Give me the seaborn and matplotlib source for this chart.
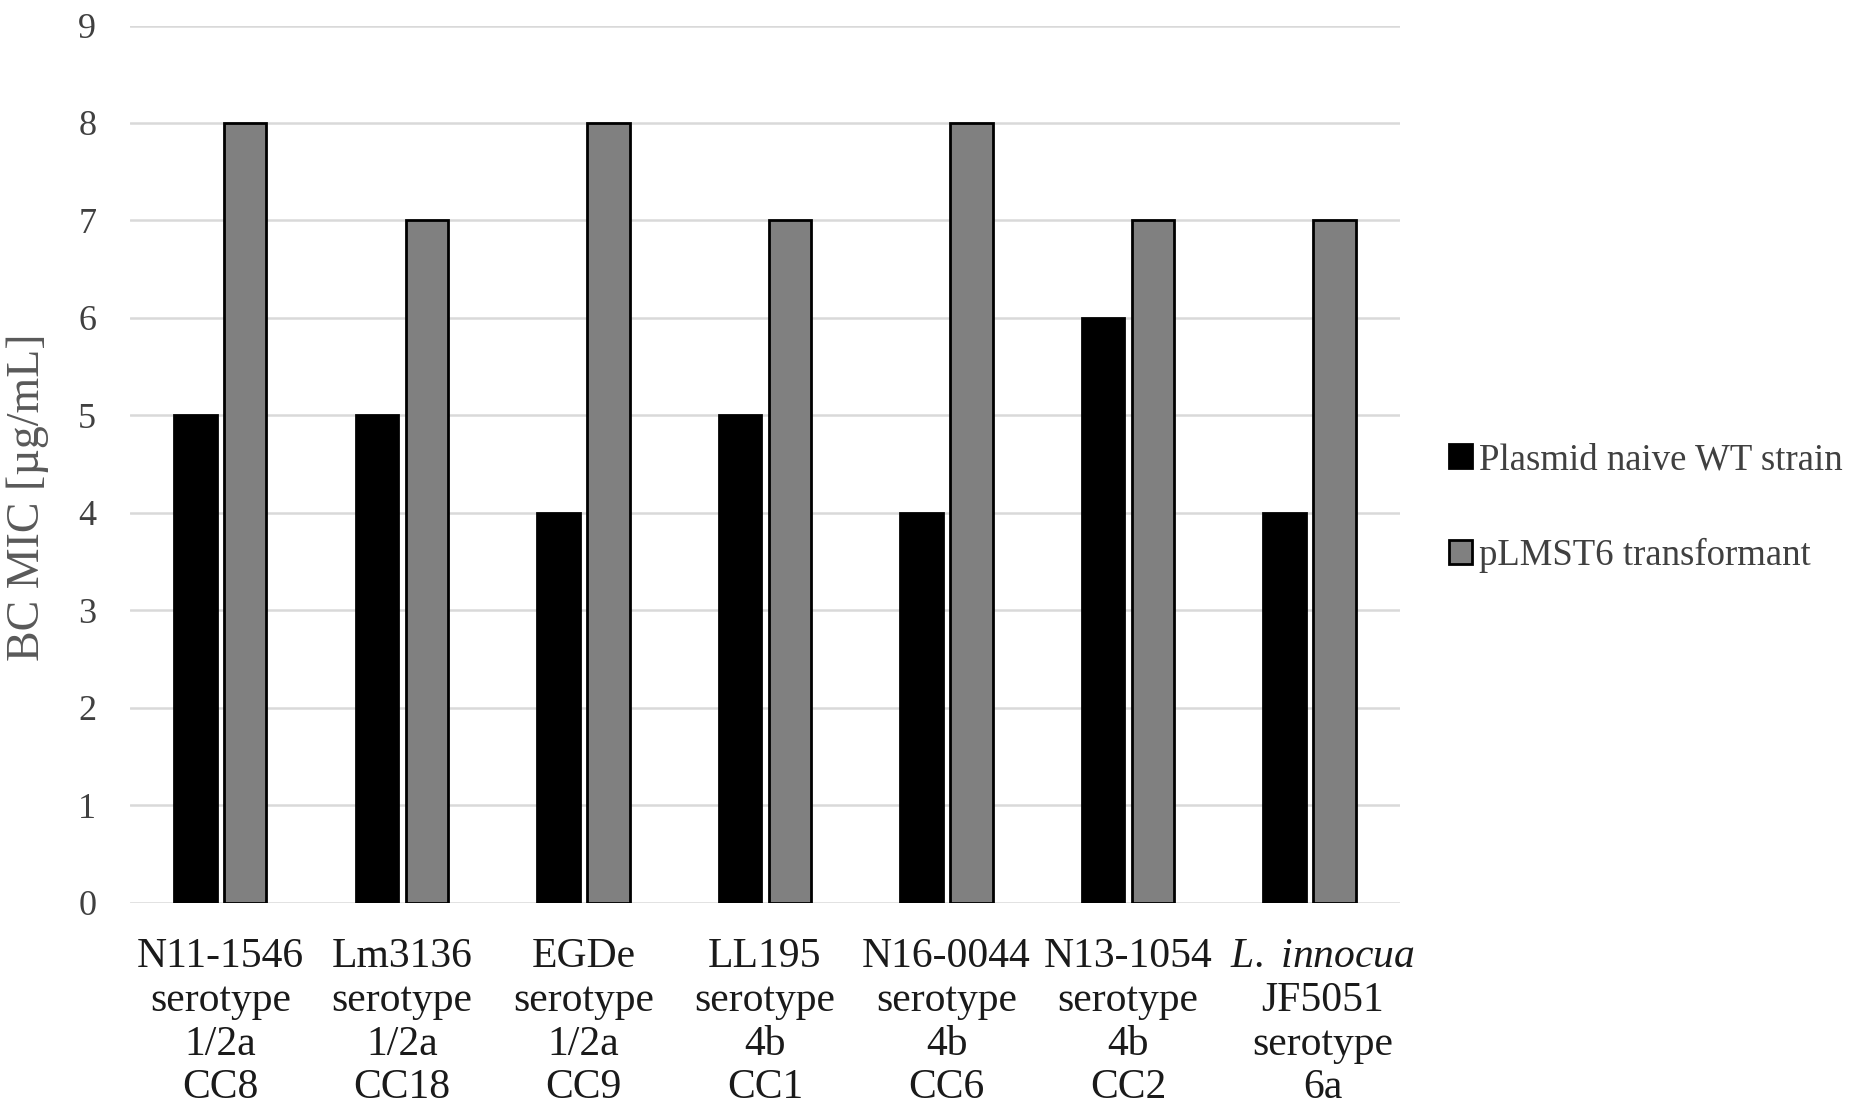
import matplotlib.pyplot as plt
import matplotlib.transforms as mtransforms
import pandas as pd
import seaborn as sns

strains = [
    "N11-1546\nserotype\n1/2a\nCC8",
    "Lm3136\nserotype\n1/2a\nCC18",
    "EGDe\nserotype\n1/2a\nCC9",
    "LL195\nserotype\n4b\nCC1",
    "N16-0044\nserotype\n4b\nCC6",
    "N13-1054\nserotype\n4b\nCC2",
    "$\\it{L.}$ $\\it{innocua}$\nJF5051\nserotype\n6a",
]
naive_mic = [5, 5, 4, 5, 4, 6, 4]
transformant_mic = [8, 7, 8, 7, 8, 7, 7]
series = ["Plasmid naive WT strain", "pLMST6 transformant"]

df = pd.DataFrame({
    "strain": strains * 2,
    "mic": naive_mic + transformant_mic,
    "group": [series[0]] * len(strains) + [series[1]] * len(strains),
})

sns.set_style("white")
plt.rcParams["font.family"] = ["Liberation Serif", "DejaVu Serif"]
plt.rcParams["mathtext.fontset"] = "custom"
plt.rcParams["mathtext.rm"] = "Liberation Serif"
plt.rcParams["mathtext.it"] = "Liberation Serif:italic"

fig = plt.figure(figsize=(18.5, 11.09), dpi=100)
ax = fig.add_axes([0.070, 0.186, 0.687, 0.791])

sns.barplot(data=df, x="strain", y="mic", hue="group", hue_order=series,
            palette={series[0]: "black", series[1]: "#808080"},
            width=0.55, gap=0.15, edgecolor="black", linewidth=2.0, ax=ax)

ax.set_ylim(0, 9)
ax.set_xlim(-0.5, 6.5)
ax.set_yticks(range(10))
ax.yaxis.grid(True, color="#d9d9d9", linewidth=1.8)
ax.set_axisbelow(True)
for s in ax.spines.values():
    s.set_visible(False)

ax.tick_params(axis="y", labelsize=26, labelcolor="#404040", length=0, pad=24)
ax.tick_params(axis="x", labelsize=30, labelcolor="#1a1a1a", length=0, pad=25)
for lab in ax.get_xticklabels():
    lab.set_linespacing(1.18)
ax.set_xlabel("")
ax.set_ylabel("BC MIC [µg/mL]", fontsize=33, color="#595959")
ax.yaxis.set_label_coords(-0.063, 0.462)

ax.legend(loc="center left", bbox_to_anchor=(1.012, 0.45), frameon=False,
          fontsize=26.5, labelcolor="#404040", handlelength=0.62, handleheight=0.62,
          handletextpad=0.2, labelspacing=1.65)

# the last category label sits a little right of its bars in the original
last = ax.get_xticklabels()[-1]
last.set_transform(last.get_transform() + mtransforms.ScaledTranslation(0.13, 0, fig.dpi_scale_trans))

fig.savefig("out.png", dpi=100)
